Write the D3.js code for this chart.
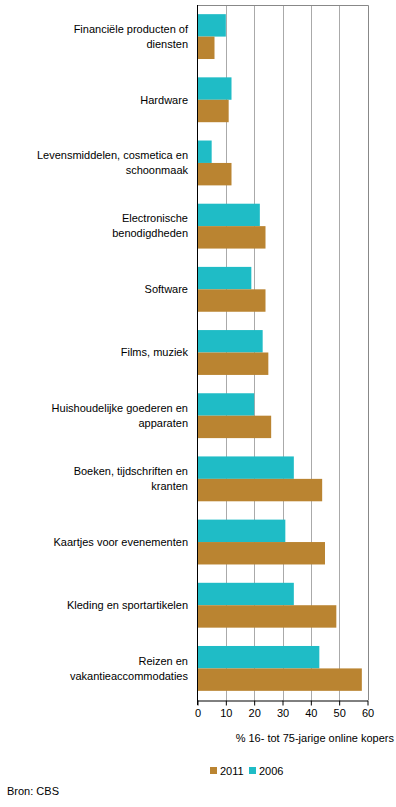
<!DOCTYPE html>
<html>
<head>
<meta charset="utf-8">
<script src="https://cdn.jsdelivr.net/npm/d3@7"></script>
<style>
  body { margin: 0; background: #fff; }
  svg text { font-family: "Liberation Sans", Arial, sans-serif; font-size: 11px; fill: #000; }
</style>
</head>
<body>
<svg></svg>
<script>
var categories = [
  ["Financiële producten of", "diensten"],
  ["Hardware"],
  ["Levensmiddelen, cosmetica en", "schoonmaak"],
  ["Electronische", "benodigdheden"],
  ["Software"],
  ["Films, muziek"],
  ["Huishoudelijke goederen en", "apparaten"],
  ["Boeken, tijdschriften en", "kranten"],
  ["Kaartjes voor evenementen"],
  ["Kleding en sportartikelen"],
  ["Reizen en", "vakantieaccommodaties"]
];
var values2006 = [10, 12, 5, 22, 19, 23, 20, 34, 31, 34, 43];
var values2011 = [6, 11, 12, 24, 24, 25, 26, 44, 45, 49, 58];
var seriesNames = ["2006", "2011"];
var xTicks = [0, 10, 20, 30, 40, 50, 60];

var color = { "2006": "#1fbcc6", "2011": "#ba8431" };

var svg = d3.select("svg").attr("width", 396).attr("height", 807);

// plot area (note: "top" is reserved on window, so use plotTop)
var plotLeft = 197.5, plotRight = 367.5, plotTop = 5, plotBottom = 700;

var x = d3.scaleLinear().domain([0, 60]).range([plotLeft, plotRight]);
var y = d3.scaleBand().domain(d3.range(categories.length)).range([plotTop, plotBottom])
    .paddingInner(0.29).paddingOuter(0.145);
var ySub = d3.scaleBand().domain(seriesNames).range([0, y.bandwidth()]);

// gridlines
svg.append("g").selectAll("line")
    .data(xTicks.slice(1, -1))
    .enter().append("line")
    .attr("x1", function(d) { return Math.round(x(d)) + 0.5; })
    .attr("x2", function(d) { return Math.round(x(d)) + 0.5; })
    .attr("y1", plotTop).attr("y2", plotBottom)
    .attr("stroke", "#aaa");

// frame top/right
svg.append("path")
    .attr("d", "M" + plotLeft + "," + (plotTop + 0.5) + "H" + (Math.round(plotRight) + 0.5) + "V" + plotBottom)
    .attr("fill", "none").attr("stroke", "#888");

var rows = categories.map(function(c, i) {
  return { i: i, label: c, vals: { "2006": values2006[i], "2011": values2011[i] } };
});

var g = svg.append("g").selectAll("g")
    .data(rows)
    .enter().append("g")
    .attr("transform", function(d) { return "translate(0," + y(d.i) + ")"; });

g.selectAll("rect")
    .data(function(d) { return seriesNames.map(function(s) { return { s: s, v: d.vals[s] }; }); })
    .enter().append("rect")
    .attr("x", x(0))
    .attr("y", function(d) { return ySub(d.s); })
    .attr("width", function(d) { return x(d.v) - x(0); })
    .attr("height", ySub.bandwidth())
    .attr("fill", function(d) { return color[d.s]; });

g.append("text")
    .attr("text-anchor", "end")
    .each(function(d) {
      var t = d3.select(this);
      var n = d.label.length;
      d.label.forEach(function(line, k) {
        t.append("tspan")
          .attr("x", 188)
          .attr("y", y.bandwidth() / 2 + (k - (n - 1) / 2) * 15)
          .attr("dy", "0.35em")
          .text(line);
      });
    });

// y axis line
svg.append("line")
    .attr("x1", plotLeft).attr("x2", plotLeft)
    .attr("y1", plotTop).attr("y2", plotBottom + 5)
    .attr("stroke", "#000");

// x axis
var xAxis = svg.append("g")
    .attr("transform", "translate(0," + (plotBottom + 0.5) + ")")
    .call(d3.axisBottom(x).tickValues(xTicks).tickSize(5).tickSizeOuter(0));
xAxis.select(".domain").attr("stroke", "#000");
xAxis.selectAll(".tick line").attr("stroke", "#000");
xAxis.selectAll(".tick text")
    .attr("y", 9)
    .style("font-family", "Liberation Sans, Arial, sans-serif")
    .style("font-size", "11px");

svg.append("text")
    .attr("x", 394).attr("y", 742)
    .attr("text-anchor", "end")
    .text("% 16- tot 75-jarige online kopers");

// legend
var legend = svg.append("g").attr("transform", "translate(210,767)");
var legendItems = ["2011", "2006"];
var lg = legend.selectAll("g").data(legendItems).enter().append("g")
    .attr("transform", function(d, i) { return "translate(" + (i * 39) + ",0)"; });
lg.append("rect").attr("width", 7).attr("height", 7)
    .attr("fill", function(d) { return color[d]; });
lg.append("text").attr("x", 10).attr("y", 8).text(function(d) { return d; });

svg.append("text")
    .attr("x", 7).attr("y", 795)
    .text("Bron: CBS");
</script>
</body>
</html>
